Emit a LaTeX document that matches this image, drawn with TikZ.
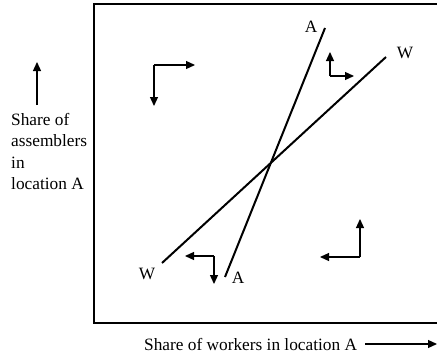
\documentclass[tikz,border=0pt]{standalone}
\usepackage{fontspec}
\setmainfont{Liberation Serif}
\usetikzlibrary{arrows.meta}
\begin{document}
\begin{tikzpicture}[
  x=1pt, y=-1pt,
  every node/.style={font=\fontsize{17.3}{21.5}\selectfont, inner sep=0pt},
  curve/.style={draw, line width=2pt},
  move/.style={draw, line width=1.2pt, -{Triangle[length=9pt,width=8pt]}},
  frame/.style={draw, line width=1.5pt}
]
\useasboundingbox (0,0) rectangle (437,356);
% box
\draw[frame] (437,4) -- (94,4) -- (94,323) -- (437,323);
% curves
\coordinate (a1) at (325,28);
\coordinate (a2) at (225,277);
\coordinate (w1) at (386,57);
\coordinate (w2) at (162,263);
\draw[curve] (a1) -- (a2);
\draw[curve] (w1) -- (w2);
\node (la1) at (311,27) {A};
\node (la2) at (238,278) {A};
\node (lw1) at (405,53) {W};
\node (lw2) at (147,274) {W};
% adjustment arrows
\coordinate (c1) at (154,65);
\coordinate (c2) at (330,76);
\coordinate (c3) at (214,256);
\coordinate (c4) at (360,257);
\draw[move] (c1) -- (195,65);
\draw[move] (c1) -- (154,106);
\draw[move] (c2) -- (330,52);
\draw[move] (c2) -- (354,76);
\draw[move] (c3) -- (185,256);
\draw[move] (c3) -- (214,284);
\draw[move] (c4) -- (360,219);
\draw[move] (c4) -- (320,257);
% axes
\node[anchor=north west, align=left] (ylab) at (11,113) {Share of\\assemblers\\in\\location A};
\coordinate (yt) at (37,62);
\draw[move] (37,105) -- (yt);
\node[anchor=base west] (xlab) at (144,350) {Share of workers in location A};
\coordinate (xt) at (437,344);
\draw[move] (365,344) -- (xt);
\end{tikzpicture}
\end{document}
